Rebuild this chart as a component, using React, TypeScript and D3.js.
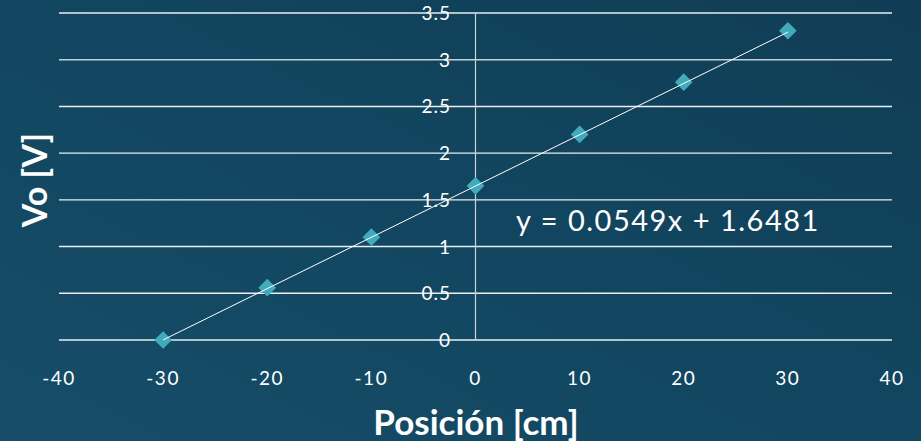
import React from 'react';
import * as d3 from 'd3';

const posiciones = [-30, -20, -10, 0, 10, 20, 30];
const voltajes = [0, 0.56, 1.1, 1.65, 2.2, 2.76, 3.31];
const xTicks = [-40, -30, -20, -10, 0, 10, 20, 30, 40];
const yTicks = [0, 0.5, 1, 1.5, 2, 2.5, 3, 3.5];
const slope = 0.0549;
const intercept = 1.6481;

const W = 921;
const H = 441;

const App = () => {
  const x = d3.scaleLinear().domain([-40, 40]).range([59, 892]);
  const y = d3.scaleLinear().domain([0, 3.5]).range([340, 13]);

  const trend = d3.line<number>()
    .x(d => x(d))
    .y(d => y(slope * d + intercept));

  const diamond = d3.symbol().type(d3.symbolDiamond2).size(200)();

  const fontFam = 'Lato, "Open Sans", sans-serif';

  return (
    <svg width={W} height={H} style={{ position: 'absolute', left: 0, top: 0, display: 'block' }}>
      <defs>
        <linearGradient id="bg" x1="0" y1="1" x2="1" y2="0">
          <stop offset="0" stopColor="#164d68" />
          <stop offset="0.5" stopColor="#124660" />
          <stop offset="1" stopColor="#103d55" />
        </linearGradient>
      </defs>
      <rect width={W} height={H} fill="url(#bg)" />

      {/* horizontal gridlines */}
      {yTicks.map(t => (
        <line key={t} x1={x(-40)} x2={x(40)} y1={y(t)} y2={y(t)}
          stroke={t === 3 ? '#c3d0d8' : '#e8eef2'} strokeWidth={1.4} />
      ))}

      {/* vertical axis at x = 0 */}
      <line x1={x(0)} x2={x(0)} y1={y(3.5)} y2={y(0)} stroke="#c8d3da" strokeWidth={1.2} />

      {/* y tick labels */}
      {yTicks.map(t => (
        <text key={t} x={451} y={y(t) + 7} textAnchor="end" fill="#ffffff"
          fontFamily={fontFam} fontSize={19} letterSpacing={1}>{String(t)}</text>
      ))}

      {/* x tick labels */}
      {xTicks.map(t => (
        <text key={t} x={x(t)} y={385} textAnchor="middle" fill="#ffffff"
          fontFamily={fontFam} fontSize={19} letterSpacing={1.5}>{String(t)}</text>
      ))}

      {/* markers */}
      {posiciones.map((p, i) => (
        <path key={p} d={diamond || ''} transform={`translate(${x(p)},${y(voltajes[i])})`} fill="#41abbc" />
      ))}

      {/* trendline */}
      <path d={trend([-30, 30]) || ''} fill="none" stroke="#ffffff" strokeWidth={1} />

      <text x={516} y={231} fill="#ffffff" fontFamily={fontFam} fontSize={29} letterSpacing={1.5}>y = 0.0549x + 1.6481</text>

      <text x={476} y={435} textAnchor="middle" fill="#ffffff" fontFamily={fontFam}
        fontSize={35} fontWeight="bold">Posición [cm]</text>
      <text transform="translate(47,180) rotate(-90)" textAnchor="middle" fill="#ffffff"
        fontFamily={fontFam} fontSize={34} fontWeight="bold">Vo [V]</text>
    </svg>
  );
};

export default App;
